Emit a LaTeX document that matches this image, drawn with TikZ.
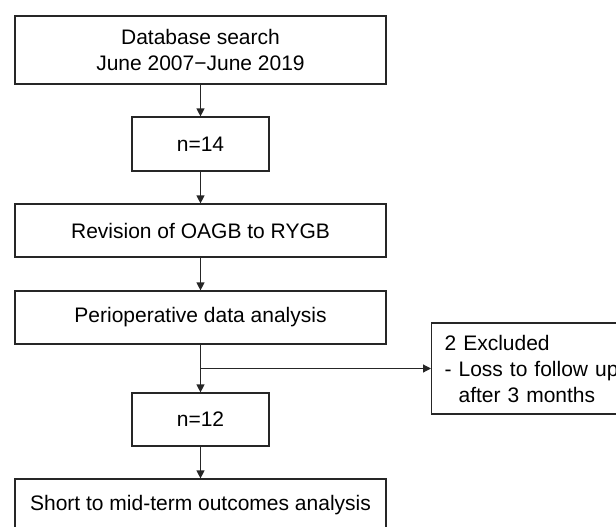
\documentclass[tikz,border=0pt]{standalone}
\usepackage{fontspec}
\setmainfont{Liberation Sans}
\usetikzlibrary{arrows.meta}
\begin{document}
\begin{tikzpicture}[x=1pt,y=1pt,
  every node/.style={font=\fontsize{21}{26}\selectfont},
  wide/.style={draw=black!85, line width=1.2pt, minimum width=371pt, minimum height=53pt, inner sep=0pt, align=center},
  narrow/.style={draw=black!85, line width=1.2pt, minimum width=137pt, minimum height=54pt, inner sep=0pt, align=center},
  conn/.style={draw=black!85, line width=1.2pt, -{Triangle[length=8pt,width=8pt]}}]
\useasboundingbox (0,0) rectangle (616,-527);
\clip (0,0) rectangle (616,-527);
\node[wide, minimum height=68pt] (db) at (200.5,-50) {Database search\\June 2007−June 2019};
\node[narrow] (n14) at (200.5,-144) {n=14};
\node[wide] (rev) at (200.5,-230.5) {Revision of OAGB to RYGB};
\node[wide] (peri) at (200.5,-317.5) {Perioperative data analysis};
\node[narrow, minimum height=53pt] (n12) at (200.5,-419.5) {n=12};
\node[wide] (out) at (200.5,-505.5) {Short to mid-term outcomes analysis};
\node[draw=black!85, line width=1.2pt, anchor=west, minimum height=91pt, minimum width=210pt,
      text width=184pt, inner xsep=13pt, inner ysep=0pt, align=left] (excl) at (431,-368.5)
      {2 Excluded\\- Loss to follow up\\\phantom{- }after 3 months};
\coordinate (br) at (200.5,-368.5);
\draw[conn] (db.south) -- (n14.north);
\draw[conn] (n14.south) -- (rev.north);
\draw[conn] (rev.south) -- (peri.north);
\draw[conn] (peri.south) -- (n12.north);
\draw[conn] (br) -- (excl.west);
\draw[conn] (n12.south) -- (out.north);
\end{tikzpicture}
\end{document}
